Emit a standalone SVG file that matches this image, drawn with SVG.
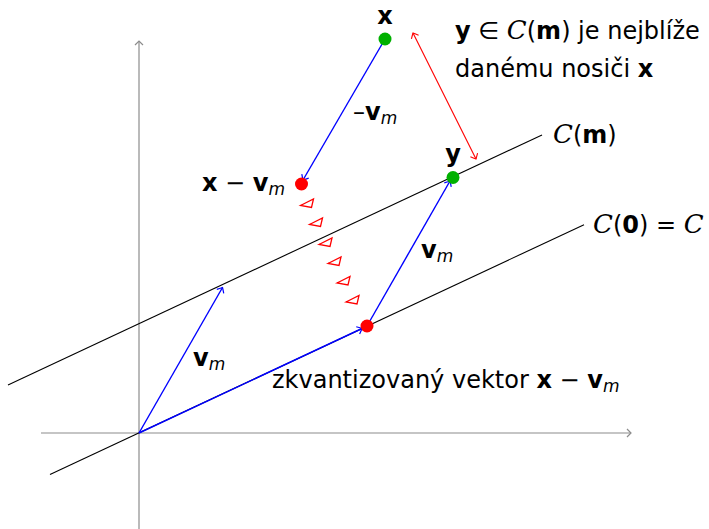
<svg xmlns="http://www.w3.org/2000/svg" width="709" height="529" viewBox="0 0 709 529">
<style>
text{font-family:"DejaVu Sans",sans-serif;font-size:24px;fill:#000}
.b{font-weight:bold}
.i{font-style:italic}
.sub{font-size:17px;font-style:italic}
.cal{font-family:"DejaVu Serif","Liberation Serif",serif;font-style:italic;font-size:26px}
.axis{stroke:#8c8c8c;stroke-width:1.2;fill:none}
.ln{stroke:#000;stroke-width:1.1;fill:none}
.bl{stroke:#0000ff;stroke-width:1.4;fill:none}
.rd{stroke:#ff0000;stroke-width:1.1;fill:none}
.tri{stroke:#ff0000;stroke-width:1.3;fill:none}
</style>
<defs>
<marker id="ag" markerUnits="userSpaceOnUse" markerWidth="14" markerHeight="14" refX="0" refY="0" viewBox="-7 -7 14 14" orient="auto"><path d="M-4,-4 Q-1,-1 0,0 Q-1,1 -4,4" fill="none" stroke="#8c8c8c" stroke-width="1.2"/></marker>
<marker id="ab" markerUnits="userSpaceOnUse" markerWidth="14" markerHeight="14" refX="0" refY="0" viewBox="-7 -7 14 14" orient="auto"><path d="M-4.5,-4 Q-1,-1 0,0 Q-1,1 -4.5,4" fill="none" stroke="#0000ff" stroke-width="1.2"/></marker>
<marker id="ar" markerUnits="userSpaceOnUse" markerWidth="14" markerHeight="14" refX="0" refY="0" viewBox="-7 -7 14 14" orient="auto-start-reverse"><path d="M-4.5,-4 Q-1,-1 0,0 Q-1,1 -4.5,4" fill="none" stroke="#ff0000" stroke-width="1.1"/></marker>
<path id="t" d="M-6.5,2.5 L6.5,-4 L4.5,4.5 Z"/>
</defs>
<g id="axes">
<line class="axis" x1="41" y1="433" x2="631" y2="433" marker-end="url(#ag)"/>
<line class="axis" x1="139" y1="529" x2="139" y2="41" marker-end="url(#ag)"/>
</g>
<g id="lines">
<line class="ln" x1="50" y1="474.6" x2="584" y2="224.7"/>
<line class="ln" x1="8" y1="385" x2="542" y2="135"/>
</g>
<g id="connectors">
<line class="bl" x1="139" y1="433" x2="222.5" y2="287.5" marker-end="url(#ab)"/>
<line class="bl" x1="139" y1="433" x2="362" y2="328.5" marker-end="url(#ab)"/>
<line class="bl" x1="367" y1="326" x2="450" y2="181" marker-end="url(#ab)"/>
<line class="bl" x1="385" y1="39" x2="303" y2="180" marker-end="url(#ab)"/>
<line class="rd" x1="413" y1="33" x2="476" y2="159" marker-start="url(#ar)" marker-end="url(#ar)"/>
<g id="triangles" class="tri">
<use href="#t" x="307" y="203"/>
<use href="#t" x="316" y="222"/>
<use href="#t" x="325.5" y="242"/>
<use href="#t" x="334.5" y="261"/>
<use href="#t" x="343.5" y="280.5"/>
<use href="#t" x="352.5" y="299.5"/>
</g>
</g>
<g id="node-x">
<circle cx="385" cy="39" r="6.5" fill="#00b000"/>
<text x="385" y="24" text-anchor="middle" class="b">x</text>
</g>
<g id="node-y">
<circle cx="453" cy="177.5" r="6.5" fill="#00b000"/>
<text x="453" y="162" text-anchor="middle" class="b">y</text>
</g>
<g id="node-xvm">
<circle cx="301.5" cy="184" r="6.5" fill="#ff0000"/>
<text x="202" y="191"><tspan class="b">x</tspan> − <tspan class="b">v</tspan><tspan class="sub" dy="4">m</tspan></text>
</g>
<g id="node-q">
<circle cx="367" cy="326" r="6.5" fill="#ff0000"/>
</g>
<g id="labels">
<text x="353" y="120">–<tspan class="b">v</tspan><tspan class="sub" dy="4">m</tspan></text>
<text x="421" y="258"><tspan class="b">v</tspan><tspan class="sub" dy="4">m</tspan></text>
<text x="193" y="366"><tspan class="b">v</tspan><tspan class="sub" dy="4">m</tspan></text>
<text x="272" y="388">zkvantizovaný vektor <tspan class="b">x</tspan> − <tspan class="b">v</tspan><tspan class="sub" dy="4">m</tspan></text>
<text x="455" y="39"><tspan class="b">y</tspan> ∈ <tspan class="cal">C</tspan>(<tspan class="b">m</tspan>) je nejblíže</text>
<text x="455" y="77">danému nosiči <tspan class="b">x</tspan></text>
<text x="553" y="143"><tspan class="cal">C</tspan>(<tspan class="b">m</tspan>)</text>
<text x="593" y="233"><tspan class="cal">C</tspan>(<tspan class="b">0</tspan>) = <tspan class="cal">C</tspan></text>
</g>
</svg>
